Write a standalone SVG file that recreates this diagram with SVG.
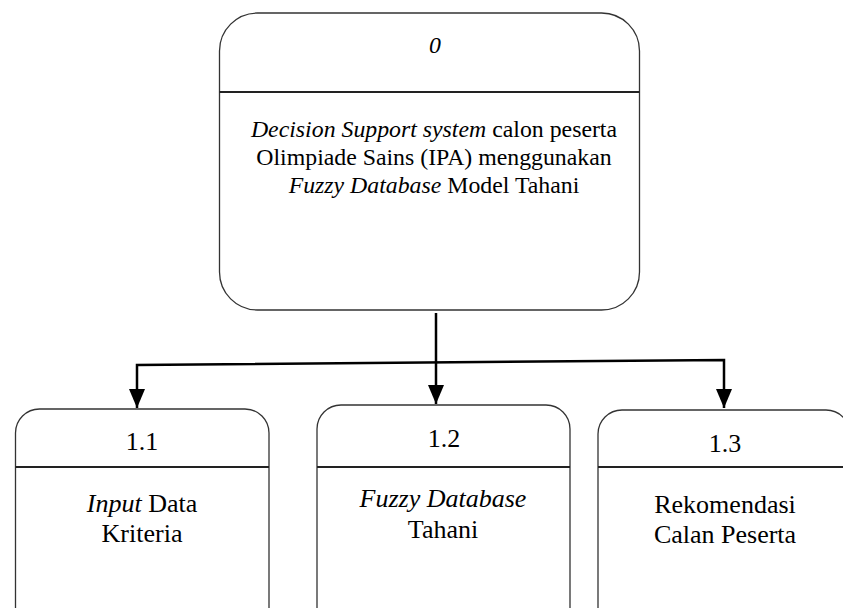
<svg xmlns="http://www.w3.org/2000/svg" width="843" height="608" viewBox="0 0 843 608">
  <style>
    .box { fill: #fff; stroke: #333; stroke-width: 1.3; }
    .div { stroke: #222; stroke-width: 2; }
    .t { font-family: 'Liberation Serif', 'Times New Roman', serif; fill: #000; text-anchor: middle; }
    .top { font-size: 23.8px; }
    .sub { font-size: 26px; }
    .i { font-style: italic; }
    .wire { fill: none; stroke: #000; stroke-width: 2.5; }
  </style>
  <defs>
    <!-- filled triangular arrowhead, tip at the end of the line -->
    <marker id="head" markerUnits="userSpaceOnUse" markerWidth="20" markerHeight="16" refX="19" refY="8" orient="auto-start-reverse" viewBox="0 0 20 16">
      <path d="M0,0 L19,8 L0,16 Z" fill="#000"/>
    </marker>
  </defs>
  <rect width="843" height="608" fill="#fff"/>

  <g id="node-0">
    <rect class="box" x="219.5" y="13" width="420" height="297" rx="38"/>
    <line class="div" x1="219.5" y1="92" x2="639.5" y2="92"/>
    <text class="t top i" x="435" y="53">0</text>
    <text class="t top" x="434" y="137"><tspan class="i">Decision Support system</tspan> calon peserta</text>
    <text class="t top" x="434" y="165">Olimpiade Sains (IPA) menggunakan</text>
    <text class="t top" x="434" y="193"><tspan class="i">Fuzzy Database</tspan> Model Tahani</text>
  </g>

  <g id="node-1-1">
    <rect class="box" x="15.5" y="409" width="253.5" height="230" rx="24"/>
    <line class="div" x1="15.5" y1="467" x2="269" y2="467"/>
    <text class="t sub" x="142" y="450">1.1</text>
    <text class="t sub" x="142" y="512"><tspan class="i">Input</tspan> Data</text>
    <text class="t sub" x="142" y="542">Kriteria</text>
  </g>

  <g id="node-1-2">
    <rect class="box" x="317" y="405" width="253" height="234" rx="24"/>
    <line class="div" x1="317" y1="467" x2="570" y2="467"/>
    <text class="t sub" x="444" y="447">1.2</text>
    <text class="t sub i" x="443" y="507">Fuzzy Database</text>
    <text class="t sub" x="443" y="538">Tahani</text>
  </g>

  <g id="node-1-3">
    <rect class="box" x="598" y="410" width="252" height="229" rx="24"/>
    <line class="div" x1="598" y1="467" x2="850" y2="467"/>
    <text class="t sub" x="725" y="452">1.3</text>
    <text class="t sub" x="725" y="513">Rekomendasi</text>
    <text class="t sub" x="725" y="543">Calan Peserta</text>
  </g>

  <g id="connectors">
    <line class="wire" x1="436" y1="313" x2="436" y2="404" marker-end="url(#head)"/>
    <polyline class="wire" points="137,408 137,365 724,360 724,408" marker-start="url(#head)" marker-end="url(#head)"/>
  </g>
</svg>
